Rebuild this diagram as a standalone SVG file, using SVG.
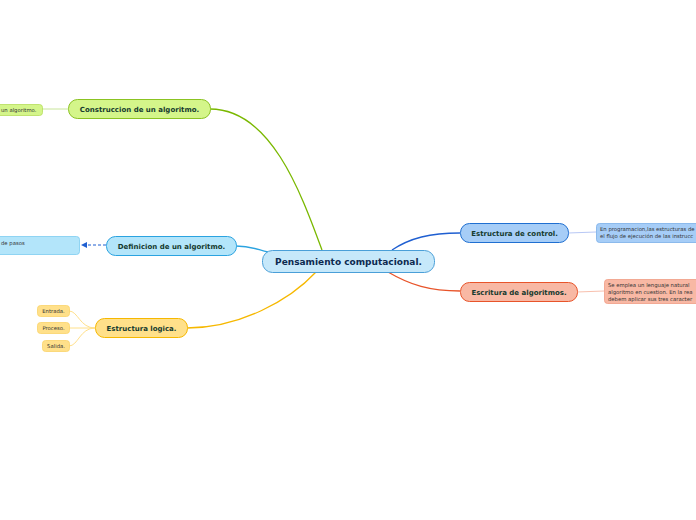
<svg xmlns="http://www.w3.org/2000/svg" width="696" height="520" viewBox="0 0 696 520">
<style>
.t{font-family:"DejaVu Sans",Verdana,sans-serif;font-weight:bold;fill:#12324a}
.m{font-size:9px;fill:#0d2a50}
.n{font-size:7px;fill:#153a2e}
.l{font-family:"DejaVu Sans",Verdana,sans-serif;font-size:5.3px;fill:#333}
.c{fill:none;stroke-width:1.3}
</style>
<defs>
<marker id="ah" markerWidth="6" markerHeight="6" refX="5" refY="3" orient="auto" markerUnits="userSpaceOnUse">
<path d="M0,0 L6,3 L0,6 z" fill="#1f5fd1"/>
</marker>
</defs>
<rect width="696" height="520" fill="#fff"/>
<g id="connectors">
<path class="c" d="M322,250 C300,190 270,109 210,109" stroke="#7ab800"/>
<path class="c" d="M236,246 C252,246 258,250 268,252" stroke="#2ba3e0"/>
<path class="c" d="M316,272 C290,300 240,328 187,328" stroke="#f6b800"/>
<path class="c" d="M392,250 C410,238 430,233 460,233" stroke="#1f5fd1"/>
<path class="c" d="M388,272 C410,285 430,291 460,291" stroke="#e8542a"/>
<path d="M42,109 L68,109" stroke="#c8e59a" stroke-width="1" fill="none"/>
<path d="M106,245 L82,245" stroke="#1f5fd1" stroke-width="1" stroke-dasharray="3,2" fill="none" marker-end="url(#ah)"/>
<path d="M95,328 C80,328 78,311 69,311" stroke="#ffe08a" stroke-width="1" fill="none"/>
<path d="M95,328 L69,328" stroke="#ffe08a" stroke-width="1" fill="none"/>
<path d="M95,328 C80,328 78,346 69,346" stroke="#ffe08a" stroke-width="1" fill="none"/>
<path d="M568,233 L596,232" stroke="#b8c8f5" stroke-width="1" fill="none"/>
<path d="M577,292 L604,291" stroke="#f8c0ae" stroke-width="1" fill="none"/>
</g>
<g id="main">
<rect x="262.5" y="250.5" width="172" height="22" rx="10" fill="#c6e8fa" stroke="#4a9fd8"/>
<text class="t m" x="348.5" y="264.5" text-anchor="middle">Pensamiento computacional.</text>
</g>
<g id="construccion">
<rect x="68.5" y="99.5" width="142" height="19" rx="9" fill="#d4f58a" stroke="#8bc322"/>
<text class="t n" x="139.5" y="111.5" text-anchor="middle">Construccion de un algoritmo.</text>
</g>
<g id="construccion-leaf">
<rect x="-10.5" y="104.5" width="53" height="11" rx="3" fill="#d4f58a" stroke="#b5dd5a" stroke-width="0.8"/>
<text class="l" x="1" y="111.5">un algoritmo.</text>
</g>
<g id="definicion">
<rect x="106.5" y="236.5" width="130" height="19" rx="9" fill="#b3e5fa" stroke="#2ba3e0"/>
<text class="t n" x="171.5" y="248.5" text-anchor="middle">Definicion de un algoritmo.</text>
</g>
<g id="definicion-leaf">
<rect x="-10.5" y="236.5" width="90" height="18" rx="3" fill="#b3e5fa" stroke="#7ccbf0" stroke-width="0.8"/>
<text class="l" x="1" y="244.5">de pasos</text>
</g>
<g id="logica">
<rect x="95.5" y="318.5" width="92" height="19" rx="9" fill="#ffe08a" stroke="#f6b800"/>
<text class="t n" x="141.5" y="330.5" text-anchor="middle">Estructura logica.</text>
</g>
<g id="entrada">
<rect x="37.5" y="305.5" width="32" height="11" rx="3" fill="#ffe08a" stroke="#fad36a" stroke-width="0.8"/>
<text class="l" x="53.5" y="312.8" text-anchor="middle">Entrada.</text>
</g>
<g id="proceso">
<rect x="37.5" y="322.5" width="32" height="11" rx="3" fill="#ffe08a" stroke="#fad36a" stroke-width="0.8"/>
<text class="l" x="53.5" y="329.8" text-anchor="middle">Proceso.</text>
</g>
<g id="salida">
<rect x="42.5" y="340.5" width="27" height="11" rx="3" fill="#ffe08a" stroke="#fad36a" stroke-width="0.8"/>
<text class="l" x="56" y="347.8" text-anchor="middle">Salida.</text>
</g>
<g id="control">
<rect x="460.5" y="223.5" width="108" height="19" rx="9" fill="#a6cdf7" stroke="#1f6fd1"/>
<text class="t n" x="514.5" y="235.5" text-anchor="middle">Estructura de control.</text>
</g>
<g id="control-leaf">
<rect x="596.5" y="223.5" width="110" height="19" rx="3" fill="#a6cdf7" stroke="#7aaee8" stroke-width="0.8"/>
<text class="l" x="600" y="231">En programacion,las estructuras de</text>
<text class="l" x="600" y="238">el flujo de ejecución de las instrucc</text>
</g>
<g id="escritura">
<rect x="460.5" y="282.5" width="117" height="19" rx="9" fill="#f8b8a4" stroke="#e8542a"/>
<text class="t n" x="519" y="294.5" text-anchor="middle">Escritura de algoritmos.</text>
</g>
<g id="escritura-leaf">
<rect x="604.5" y="279.5" width="100" height="24" rx="3" fill="#f8b8a4" stroke="#f09c84" stroke-width="0.8"/>
<text class="l" x="608" y="286.5">Se emplea un lenguaje natural</text>
<text class="l" x="608" y="293.5">algoritmo en cuestion. En la rea</text>
<text class="l" x="608" y="300.5">debem aplicar sus tres caracter</text>
</g>
</svg>
